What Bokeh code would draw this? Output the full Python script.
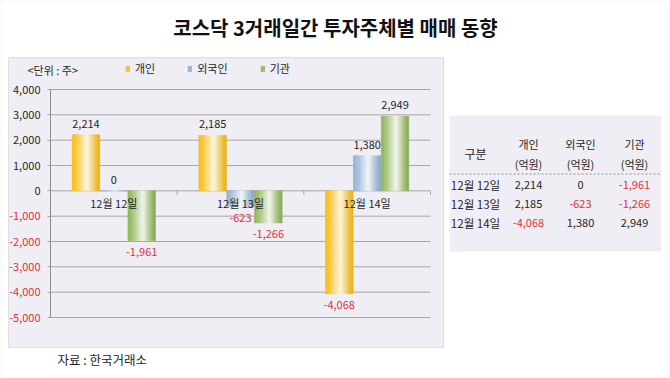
from bokeh.plotting import figure
from bokeh.models import (Range1d, ColumnDataSource, LabelSet, Label, LinearAxis,
                          BoxAnnotation, Legend, LegendItem, FixedTicker,
                          CustomJSTickFormatter)
from bokeh.core.properties import value
from bokeh.embed import file_html
from bokeh.resources import INLINE

# ---------------- data ----------------
title = "코스닥 3거래일간 투자주체별 매매 동향"
dates = ["12월 12일", "12월 13일", "12월 14일"]
series_names = ["개인", "외국인", "기관"]
individual = [2214, 2185, -4068]
foreign = [0, -623, 1380]
institution = [-1961, -1266, 2949]
y_ticks = [4000, 3000, 2000, 1000, 0, -1000, -2000, -3000, -4000, -5000]
unit_text = "<단위 : 주>"
table_first_col = "구분"
table_unit = "(억원)"
source_text = "자료 : 한국거래소"

values = [individual, foreign, institution]

# ---------------- layout / style ----------------
WIDTH, HEIGHT = 670, 378
PL, PR, PT, PB = 50, 430, 89, 317          # plot area in pixels
FONT = "Noto Sans CJK KR"
TXT = "#262626"
RED = "#E0303C"
GRID = "#A6A6A6"
PANEL = "#F0EEF5"
BASES = [(247, 190, 18), (146, 176, 214), (143, 181, 86)]

ncat = len(dates)
ymin, ymax = min(y_ticks), max(y_ticks)
cpx = (PR - PL) / ncat
upx = (ymax - ymin) / (PB - PT)
x_range = Range1d(-PL / cpx, (WIDTH - PL) / cpx)
y_range = Range1d(ymin - (HEIGHT - PB) * upx, ymax + PT * upx)


def px2x(px):
    return x_range.start + px / cpx


def px2y(py):
    return y_range.end - py * upx


p = figure(width=WIDTH, height=HEIGHT, x_range=x_range, y_range=y_range,
           output_backend="svg", toolbar_location=None, title=None,
           x_axis_location=None, y_axis_location=None,
           min_border=0, min_border_left=0, min_border_right=0,
           min_border_top=0, min_border_bottom=0)
p.background_fill_color = "white"
p.border_fill_color = "white"
p.outline_line_color = None
p.xgrid.visible = False
p.ygrid.visible = False


def cbox(l, r, t, b, **kw):
    p.add_layout(BoxAnnotation(left=l, right=r, top=t, bottom=b,
                               left_units="canvas", right_units="canvas",
                               top_units="canvas", bottom_units="canvas",
                               level="image", **kw))


cbox(0.5, 669.5, 0.5, 377.5, fill_color=None, line_color="#D4D4D4", line_width=1)
cbox(8, 443, 57, 347, fill_color=PANEL, fill_alpha=1, line_color="#A8A8A8", line_width=1)
cbox(449, 661, 115, 251, fill_color=PANEL, fill_alpha=1, line_color=None)

# grid lines (from tick values, spanning the category area)
p.segment(x0=[0] * len(y_ticks), x1=[ncat] * len(y_ticks), y0=y_ticks, y1=y_ticks,
          line_color=GRID, line_width=1)
# boundary ticks on the category axis
bx = list(range(1, ncat + 1))
p.segment(x0=bx, x1=bx, y0=[0] * ncat, y1=[-4 * upx] * ncat,
          line_color=GRID, line_width=1)

# y axis (positive labels, black)
ya = LinearAxis(ticker=FixedTicker(ticks=y_ticks), fixed_location=0,
                bounds=(ymin, ymax),
                formatter=CustomJSTickFormatter(
                    code="return tick < 0 ? '' : Number(tick).toLocaleString('en-US');"))
ya.axis_line_color = "#8C8C8C"
ya.major_tick_line_color = GRID
ya.major_tick_out = 3
ya.major_tick_in = 0
ya.minor_tick_line_color = None
ya.major_label_standoff = 7
ya.major_label_text_font = FONT
ya.major_label_text_font_size = "11px"
ya.major_label_text_color = TXT
p.add_layout(ya, "left")

# y axis (negative labels, red)
yb = LinearAxis(ticker=FixedTicker(ticks=[t for t in y_ticks if t < 0]), fixed_location=0,
                bounds=(ymin, ymax),
                formatter=CustomJSTickFormatter(
                    code="return Number(tick).toLocaleString('en-US');"))
yb.axis_line_color = None
yb.major_tick_line_color = None
yb.major_tick_out = 3
yb.major_tick_in = 0
yb.minor_tick_line_color = None
yb.major_label_standoff = 7
yb.major_label_text_font = FONT
yb.major_label_text_font_size = "11px"
yb.major_label_text_color = RED
p.add_layout(yb, "left")

# category axis at y = 0
xa = LinearAxis(ticker=FixedTicker(ticks=[i + 0.5 for i in range(ncat)]), fixed_location=0,
                formatter=CustomJSTickFormatter(args=dict(labels=dates),
                                                code="return labels[Math.floor(tick)] || '';"))
xa.axis_line_color = None
xa.major_tick_line_color = None
xa.minor_tick_line_color = None
xa.major_tick_out = 0
xa.major_tick_in = 0
xa.major_label_standoff = 4
xa.major_label_text_font = FONT
xa.major_label_text_font_size = "11px"
xa.major_label_text_color = TXT
p.add_layout(xa, "below")

# bars with horizontal gradient (strips)
W = 0.217
STEP = 0.22
N = 16
legend_items = []
for j, (name, vals, base) in enumerate(zip(series_names, values, BASES)):
    center = (j - 1) * STEP
    rep = None
    for k in range(N):
        t = (k + 0.5) / N
        peak = 0.55
        if t <= peak:
            f = 0.9 * (t / peak) ** 1.3
        else:
            f = 0.9 * (1 - (t - peak) / (1 - peak)) ** 1.2
        dark = 1.0 if t <= peak else 0.94
        col = tuple(int(round(c * dark * (1 - f) + 255 * f)) for c in base)
        hexc = "#%02x%02x%02x" % col
        off = center - W / 2 + (k + 0.5) * W / N
        src = ColumnDataSource(dict(x=[i + 0.5 + off for i in range(ncat)], value=vals))
        r = p.vbar(x="x", top="value", bottom=0, width=W / N, source=src,
                   fill_color=hexc, line_color=hexc, line_width=0.6)
        if k == 1:
            rep = r
    legend_items.append(LegendItem(label=name, renderers=[rep]))

    pos = [(i, v) for i, v in enumerate(vals) if v >= 0]
    neg = [(i, v) for i, v in enumerate(vals) if v < 0]
    if pos:
        ps = ColumnDataSource(dict(x=[i + 0.5 + center for i, _ in pos],
                                   value=[v for _, v in pos],
                                   label=[f"{v:,}" for _, v in pos]))
        p.add_layout(LabelSet(x="x", y="value", text="label", source=ps, y_offset=7,
                              text_align="center", text_baseline="alphabetic",
                              text_font=value(FONT), text_font_size="11px",
                              text_color=TXT))
    if neg:
        ns = ColumnDataSource(dict(x=[i + 0.5 + center for i, _ in neg],
                                   value=[v for _, v in neg],
                                   label=[f"{v:,}" for _, v in neg]))
        p.add_layout(LabelSet(x="x", y="value", text="label", source=ns, y_offset=-7,
                              text_align="center", text_baseline="top",
                              text_font=value(FONT), text_font_size="11px",
                              text_color=RED))

legend = Legend(items=legend_items, orientation="horizontal", location=(125, 302),
                glyph_width=5, glyph_height=7, label_standoff=5, spacing=32,
                padding=0, margin=0, label_height=14,
                label_text_font=FONT, label_text_font_size="11px",
                label_text_color=TXT, background_fill_alpha=0,
                border_line_color=None)
p.add_layout(legend)


def canvas_label(x, y, text, size="11px", color=TXT, align="center", bold=False):
    p.add_layout(Label(x=x, y=y, x_units="canvas", y_units="canvas", text=text,
                       text_align=align, text_baseline="middle", text_font=FONT,
                       text_font_size=size, text_color=color,
                       text_font_style="bold" if bold else "normal"))


canvas_label(335, 27, title, size="20px", color="#111111", bold=True)
canvas_label(27, 69, unit_text, align="left")
canvas_label(57, 359, source_text, size="12.5px", align="left")

# table
col_x = [475, 528, 580, 634]
canvas_label(col_x[0], 153, table_first_col, size="12px")
for cx, name in zip(col_x[1:], series_names):
    canvas_label(cx, 143, name)
    canvas_label(cx, 163, table_unit)
p.segment(x0=[px2x(449)], x1=[px2x(661)], y0=[px2y(173.5)], y1=[px2y(173.5)],
          line_color="#8C8C8C", line_dash="2 2", line_width=1)
row_y = [184, 203, 222]
for i, (d, ry) in enumerate(zip(dates, row_y)):
    canvas_label(col_x[0], ry, d, size="11.5px")
    for cx, vals in zip(col_x[1:], values):
        v = vals[i]
        canvas_label(cx, ry, f"{v:,}", color=RED if v < 0 else TXT)

open("out.html", "w").write(file_html(p, INLINE))
